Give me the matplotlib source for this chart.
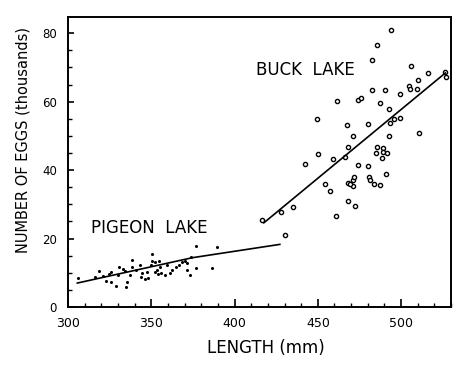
import matplotlib
matplotlib.use("Agg")
import matplotlib.pyplot as plt
from matplotlib.ticker import MultipleLocator

# Pigeon Lake fish: length (mm) vs eggs (thousands)
pigeon_len = [306.0, 316.2, 318.6, 321.2, 323.0, 324.6, 325.6, 326.0, 328.6, 330.6,
              330.0, 332.8, 334.0, 334.6, 335.6, 337.0, 338.6, 338.6, 340.6, 343.2,
              344.0, 344.6, 346.0, 347.2, 348.0, 349.6, 350.6, 350.6, 352.4, 352.0,
              353.6, 354.0, 354.6, 355.2, 356.0, 358.0, 359.6, 361.2, 362.6, 364.6,
              366.6, 368.6, 370.0, 371.6, 373.2, 374.0, 376.6, 376.6, 386.6, 389.2,
              371.6]
pigeon_eggs = [8.6, 8.8, 10.5, 9.2, 7.6, 9.6, 10.3, 7.3, 6.1, 11.7,
               9.3, 11.1, 10.5, 5.9, 7.3, 9.3, 13.7, 11.7, 10.9, 12.2,
               8.8, 10.0, 8.3, 10.3, 8.6, 12.2, 15.6, 13.5, 13.2, 10.3,
               10.9, 9.6, 13.4, 11.7, 10.0, 9.3, 12.2, 10.0, 10.7, 11.7,
               12.2, 13.2, 13.5, 10.9, 9.3, 14.6, 17.8, 11.4, 11.4, 17.6,
               12.9]

# Buck Lake fish
buck_len = [416.6, 427.6, 435.2, 430.2, 442.2, 449.4, 450.4, 454.6, 457.6, 459.2,
            460.8, 461.4, 466.6, 467.6, 468.2, 468.0, 468.0, 471.0, 471.0, 471.0,
            472.0, 472.6, 474.2, 474.2, 475.8, 480.4, 480.4, 480.8, 481.2, 482.6,
            482.6, 485.6, 484.0, 484.8, 485.6, 487.2, 487.4, 488.4, 489.2, 489.2,
            490.4, 491.2, 491.6, 492.6, 492.6, 493.6, 494.2, 495.6, 499.2, 499.4,
            504.6, 505.2, 506.2, 509.6, 510.4, 511.0, 516.2, 526.6, 527.2, 469.2]
buck_eggs = [25.4, 27.8, 29.3, 20.9, 41.9, 54.9, 44.6, 35.8, 33.9, 43.2,
             26.7, 60.1, 43.7, 53.1, 46.9, 36.1, 30.9, 50.1, 37.2, 35.3,
             38.0, 29.5, 41.4, 60.5, 61.2, 53.4, 41.3, 38.1, 37.0, 72.1,
             63.4, 76.7, 35.9, 44.9, 46.8, 35.6, 59.6, 43.6, 46.5, 45.3,
             63.4, 39.0, 44.9, 58.0, 50.1, 53.8, 80.9, 54.9, 55.2, 62.2,
             64.5, 63.7, 70.5, 63.6, 66.2, 50.8, 68.5, 68.7, 67.1, 35.8]

# fitted lines as drawn
pigeon_fit_len = [305.6, 374.6, 427.2]
pigeon_fit_eggs = [7.0, 14.4, 18.3]
buck_fit_len = [417.6, 526.6]
buck_fit_eggs = [24.6, 68.4]

fig = plt.figure(figsize=(4.77, 3.66), dpi=100)
ax = fig.add_axes([0.1426, 0.1612, 0.803, 0.791])

ax.plot(pigeon_len, pigeon_eggs, 'o', color='black', markersize=2.2, markeredgewidth=0)
ax.plot(buck_len, buck_eggs, 'o', markerfacecolor='white', markeredgecolor='black',
        markersize=3.0, markeredgewidth=1.0, clip_on=False)
ax.plot(pigeon_fit_len, pigeon_fit_eggs, '-', color='black', linewidth=1.2)
ax.plot(buck_fit_len, buck_fit_eggs, '-', color='black', linewidth=1.2)

ax.text(412.6, 69.2, "BUCK  LAKE", fontsize=12, va='center', ha='left')
ax.text(313.7, 23.0, "PIGEON  LAKE", fontsize=12, va='center', ha='left')

ax.set_xlim(300, 530)
ax.set_ylim(0, 84.6)

ax.xaxis.set_major_locator(MultipleLocator(50))
ax.xaxis.set_minor_locator(MultipleLocator(10))
ax.yaxis.set_major_locator(MultipleLocator(20))
ax.yaxis.set_minor_locator(MultipleLocator(5))

ax.tick_params(axis='both', which='both', direction='in', top=False, right=False)
ax.tick_params(axis='x', which='major', length=6, width=1.2, labelsize=9, pad=7)
ax.tick_params(axis='x', which='minor', length=3, width=1.0)
ax.tick_params(axis='y', which='major', length=4, width=1.2, labelsize=8.5, pad=8)
ax.tick_params(axis='y', which='minor', length=3, width=1.0)

for spine in ax.spines.values():
    spine.set_linewidth(1.4)

ax.set_xlabel("LENGTH (mm)", fontsize=12)
ax.set_ylabel("NUMBER OF EGGS (thousands)", fontsize=10.5)
ax.xaxis.set_label_coords(0.517, -0.14)
ax.yaxis.set_label_coords(-0.118, 0.576)
ax.xaxis.label.set_va('center')
ax.yaxis.label.set_va('center')

fig.savefig("out.png", dpi=100)
